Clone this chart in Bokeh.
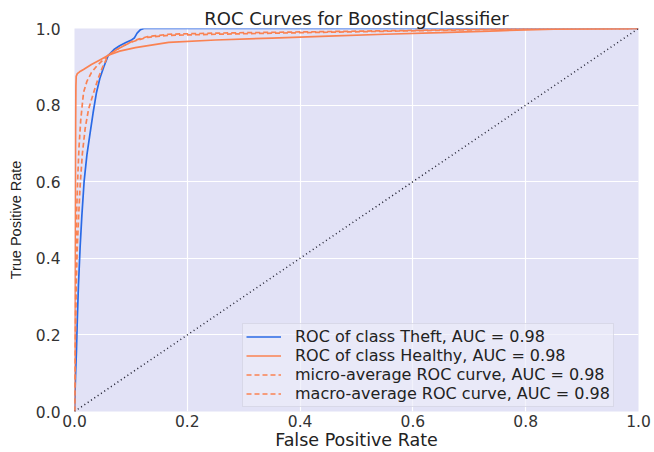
from bokeh.plotting import figure
from bokeh.models import Range1d, FixedTicker, PrintfTickFormatter, Legend, LegendItem
from bokeh.embed import file_html
from bokeh.resources import INLINE

# ROC curve points (false positive rate, true positive rate)
theft_fpr = [0, 0.002, 0.0035, 0.005, 0.007, 0.010, 0.013, 0.017, 0.022, 0.027, 0.033, 0.039,
             0.045, 0.052, 0.060, 0.070, 0.080, 0.092, 0.100, 0.106, 0.111, 0.117, 0.123, 0.130, 1.0]
theft_tpr = [0, 0.10, 0.16, 0.24, 0.33, 0.43, 0.51, 0.60, 0.67, 0.72, 0.78, 0.833,
             0.87, 0.90, 0.93, 0.945, 0.955, 0.964, 0.969, 0.975, 0.988, 0.997, 1.0, 1.0, 1.0]

healthy_fpr = [0, 0.001, 0.002, 0.0025, 0.003, 0.005, 0.009, 0.016, 0.030, 0.045, 0.060, 0.080,
               0.108, 0.167, 0.25, 0.35, 0.45, 0.55, 0.65, 0.75, 0.85, 1.0]
healthy_tpr = [0, 0.40, 0.75, 0.85, 0.875, 0.882, 0.887, 0.893, 0.906, 0.918, 0.930, 0.941,
               0.950, 0.964, 0.970, 0.975, 0.980, 0.985, 0.989, 0.994, 0.998, 1.0]

micro_fpr = [0, 0.001, 0.0015, 0.002, 0.003, 0.004, 0.006, 0.008, 0.011, 0.016, 0.022, 0.030,
             0.040, 0.050, 0.060, 0.075, 0.090, 0.100, 0.115, 0.130, 0.167, 0.25, 0.40, 0.60, 0.80, 1.0]
micro_tpr = [0, 0.15, 0.25, 0.33, 0.45, 0.53, 0.62, 0.69, 0.76, 0.833, 0.862, 0.885,
             0.903, 0.917, 0.930, 0.945, 0.957, 0.964, 0.971, 0.977, 0.982, 0.985, 0.989, 0.994, 0.999, 1.0]

macro_fpr = [0, 0.0015, 0.003, 0.005, 0.007, 0.010, 0.014, 0.019, 0.025, 0.034, 0.042, 0.050,
             0.060, 0.075, 0.090, 0.100, 0.115, 0.130, 0.167, 0.25, 0.40, 0.60, 0.75, 1.0]
macro_tpr = [0, 0.18, 0.33, 0.43, 0.50, 0.59, 0.674, 0.74, 0.79, 0.833, 0.87, 0.90,
             0.930, 0.945, 0.957, 0.965, 0.973, 0.979, 0.985, 0.988, 0.991, 0.995, 0.999, 1.0]

auc_theft = 0.98
auc_healthy = 0.98
auc_micro = 0.98
auc_macro = 0.98

ticks = [0.0, 0.2, 0.4, 0.6, 0.8, 1.0]

BLUE = "#2a6ae6"
ORANGE = "#fa8252"
FONT = "DejaVu Sans"
TEXT = "#333333"

p = figure(width=654, height=452, output_backend="svg", toolbar_location=None,
           x_range=Range1d(0, 1), y_range=Range1d(0, 1),
           min_border_left=74, min_border_right=16, min_border_top=28, min_border_bottom=40,
           title="ROC Curves for BoostingClassifier")

p.background_fill_color = "#e2e2f6"
p.border_fill_color = "white"
p.outline_line_color = None

p.title.align = "center"
p.title.text_font = FONT
p.title.text_font_size = "18px"
p.title.text_font_style = "normal"
p.title.text_color = "#222222"
p.title.offset = 0
p.title.standoff = 0

for ax in (p.xaxis[0], p.yaxis[0]):
    ax.ticker = FixedTicker(ticks=ticks)
    ax.formatter = PrintfTickFormatter(format="%.1f")
    ax.axis_line_color = None
    ax.major_tick_line_color = None
    ax.minor_tick_line_color = None
    ax.major_tick_out = 0
    ax.major_tick_in = 0
    ax.major_label_text_font = FONT
    ax.major_label_text_font_size = "15.5px"
    ax.major_label_text_color = TEXT
    ax.axis_label_text_font_style = "normal"
    ax.axis_label_text_color = "#222222"

p.xaxis.axis_label = "False Positive Rate"
p.xaxis.axis_label_text_font = FONT
p.xaxis.axis_label_text_font_size = "17.5px"
p.xaxis.major_label_standoff = 3
p.xaxis.axis_label_standoff = 0

p.yaxis.axis_label = "True Positive Rate"
p.yaxis.axis_label_text_font = "Liberation Sans"
p.yaxis.axis_label_text_font_size = "14.5px"
p.yaxis.major_label_standoff = 14
p.yaxis.axis_label_standoff = 9

p.xgrid.grid_line_color = "white"
p.ygrid.grid_line_color = "white"
p.xgrid.grid_line_width = 1.2
p.ygrid.grid_line_width = 1.2

r_theft = p.line(theft_fpr, theft_tpr, line_color=BLUE, line_width=1.7)
r_healthy = p.line(healthy_fpr, healthy_tpr, line_color=ORANGE, line_width=1.7)
r_micro = p.line(micro_fpr, micro_tpr, line_color=ORANGE, line_width=1.7, line_dash="5 3")
r_macro = p.line(macro_fpr, macro_tpr, line_color=ORANGE, line_width=1.7, line_dash="5 3")

# chance diagonal
p.line([0, 1], [0, 1], line_color="#222233", line_width=1.5, line_dash="1 3")

legend = Legend(items=[
    LegendItem(label=f"ROC of class Theft, AUC = {auc_theft:.2f}", renderers=[r_theft]),
    LegendItem(label=f"ROC of class Healthy, AUC = {auc_healthy:.2f}", renderers=[r_healthy]),
    LegendItem(label=f"micro-average ROC curve, AUC = {auc_micro:.2f}", renderers=[r_micro]),
    LegendItem(label=f"macro-average ROC curve, AUC = {auc_macro:.2f}", renderers=[r_macro]),
])
legend.location = (168, 4)
legend.label_text_font = FONT
legend.label_text_font_size = "16px"
legend.label_text_color = "#222222"
legend.label_height = 17
legend.glyph_height = 17
legend.glyph_width = 35
legend.label_standoff = 14
legend.spacing = 0
legend.padding = 3
legend.margin = 0
legend.background_fill_color = "#ececf9"
legend.background_fill_alpha = 0.7
legend.border_line_color = "#c8c8d8"
legend.border_line_width = 1
p.add_layout(legend, "center")

open("out.html", "w").write(file_html(p, INLINE))
